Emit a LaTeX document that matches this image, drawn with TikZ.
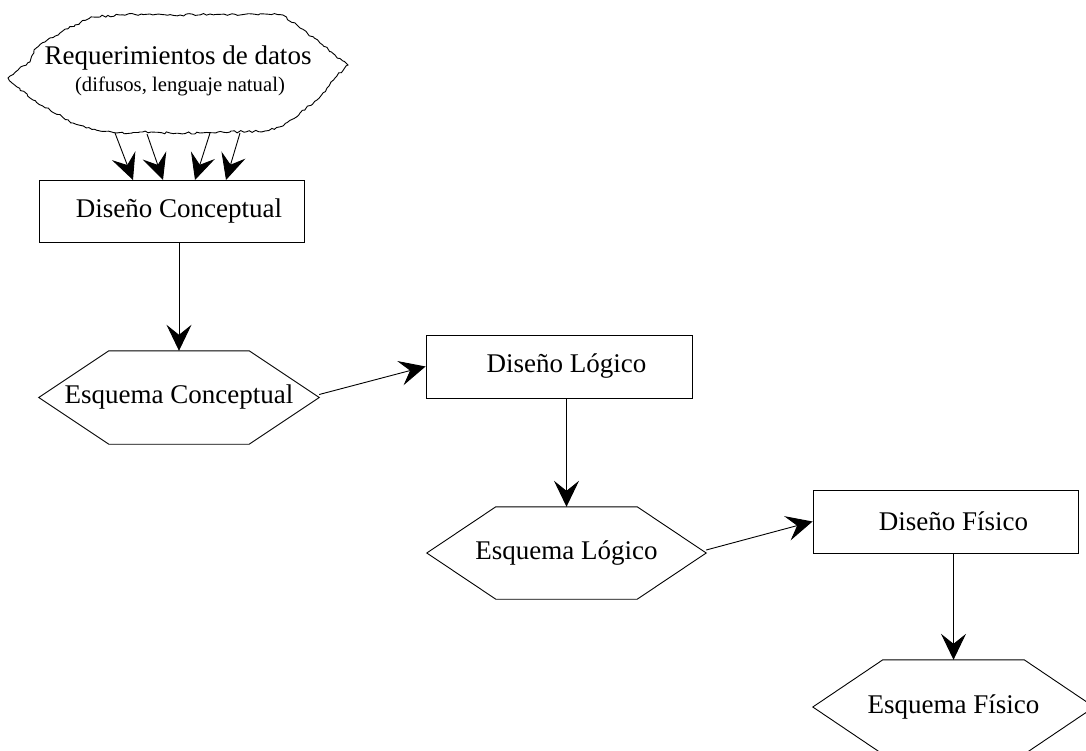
\documentclass[tikz,border=0pt]{standalone}
\usepackage{fontspec}
\setmainfont{Liberation Serif}
\usetikzlibrary{arrows.meta,decorations.pathmorphing}
\newcommand\hexoutline[2]{%
  \draw[edge] (#1.west) -- ([xshift=#2]#1.north west) -- ([xshift=-#2]#1.north east)
    -- (#1.east) -- ([xshift=-#2]#1.south east) -- ([xshift=#2]#1.south west) -- cycle;}
\begin{document}
\begin{tikzpicture}[x=1pt,y=-1pt,
  edge/.style={line width=0.9pt, draw=black},
  arr/.style={edge, -{Stealth[length=26pt,width=25pt,inset=10pt]}},
  boxnode/.style={draw, line width=0.9pt, inner sep=0pt, minimum height=62pt},
  hexnode/.style={inner sep=0pt, font=\fontsize{27}{30}\selectfont},
  txt/.style={inner sep=0pt, font=\fontsize{27}{30}\selectfont},
  small/.style={inner sep=0pt, font=\fontsize{20.7}{24}\selectfont}]
\useasboundingbox (0,0) rectangle (1086,751);
\fill[white] (0,0) rectangle (1086,751);

% cloud
\pgfmathsetseed{7}
\draw[edge, decorate, decoration={random steps, segment length=3pt, amplitude=1.1pt}]
  (8,78) -- (18,70) -- (30,62) -- (34,50) -- (45,42) -- (60,33) -- (75,25) -- (93,17)
  -- (120,15) -- (150,14) -- (180,15) -- (210,14) -- (240,15) -- (265,14) -- (283,15)
  -- (300,28) -- (320,43) -- (335,55) -- (348,65) -- (335,78) -- (327,88) -- (317,100)
  -- (300,113) -- (283,126) -- (265,131) -- (230,132) -- (200,133) -- (170,133)
  -- (140,132) -- (117,133) -- (100,131) -- (73,123) -- (50,110) -- (33,100) -- (17,87) -- cycle;
\node[txt, anchor=base] (req1) at (178,65) {Requerimientos de datos};
\node[small, anchor=base] (req2) at (180,92) {(difusos, lenguaje natual)};

% boxes
\node[boxnode, minimum width=265pt] (dc) at (171.5,211) {};
\node[boxnode, minimum width=266pt, minimum height=63pt] (dl) at (559,366.5) {};
\node[boxnode, minimum width=265pt, minimum height=63pt] (df) at (945.5,521.5) {};

% hexagons
\node[hexnode, minimum width=280pt, minimum height=93pt] (ec) at (179,397.5) {Esquema Conceptual};
\node[hexnode, minimum width=279pt, minimum height=92pt] (el) at (566.5,553) {Esquema Lógico};
\node[hexnode, minimum width=281pt, minimum height=94pt] (ef) at (953.5,707) {Esquema Físico};
\hexoutline{ec}{70pt}
\hexoutline{el}{69pt}
\hexoutline{ef}{70pt}

% box texts
\node[txt] (dct) at (dc.center -| ec.center) {Diseño Conceptual};
\node[txt] (dlt) at (dl.center -| el.center) {Diseño Lógico};
\node[txt] (dft) at (df.center -| ef.center) {Diseño Físico};

% cloud arrows
\coordinate (s1) at (115,133); \coordinate (t1) at (133,180);
\coordinate (s2) at (147,134); \coordinate (t2) at (163,180);
\coordinate (s3) at (210,133); \coordinate (t3) at (195,180);
\coordinate (s4) at (240,133); \coordinate (t4) at (226,180);
\draw[arr] (s1) -- (t1);
\draw[arr] (s2) -- (t2);
\draw[arr] (s3) -- (t3);
\draw[arr] (s4) -- (t4);

% flow
\draw[arr] (ec.north |- dc.south) -- (ec.north);
\draw[arr] ([yshift=3pt]ec.east) -- (dl.west);
\draw[arr] (el.north |- dl.south) -- (el.north);
\draw[arr] ([yshift=3pt]el.east) -- (df.west);
\draw[arr] (ef.north |- df.south) -- (ef.north);
\end{tikzpicture}
\end{document}
